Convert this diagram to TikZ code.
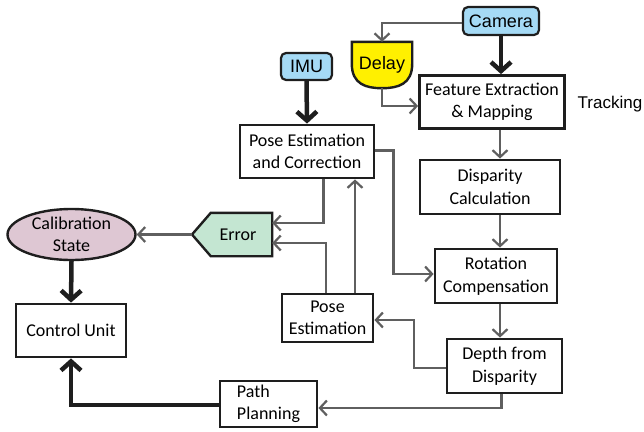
\documentclass[tikz,border=0pt]{standalone}
\usepackage{fontspec}
\setmainfont{Carlito}
\newfontfamily\arialf{Liberation Sans}
\usetikzlibrary{arrows.meta,shapes.geometric,backgrounds}
\definecolor{camblue}{RGB}{165,218,245}
\definecolor{delayyel}{RGB}{255,240,0}
\definecolor{errgreen}{RGB}{196,230,210}
\definecolor{calpink}{RGB}{222,199,211}
\definecolor{linegray}{RGB}{95,95,95}
\definecolor{boxblack}{RGB}{30,30,30}
\tikzset{
  txt/.style={font=\fontsize{18}{22.5}\selectfont, align=center, inner sep=0pt},
  box/.style={txt, draw=boxblack, line width=2.8pt, fill=white},
  rbox/.style={draw=boxblack, line width=2.2pt, fill=camblue, rounded corners=5pt,
     font=\arialf\fontsize{18}{22}\selectfont, inner sep=0pt},
  garr/.style={draw=linegray, line width=2.2pt, -{Straight Barb[length=7pt,width=15pt]}},
  karr/.style={draw=boxblack, line width=4.5pt, -{Straight Barb[length=9pt,width=20pt]}},
}
\begin{document}
\begin{tikzpicture}[x=1pt,y=-1pt]
\useasboundingbox (0,0) rectangle (644,431);
% nodes
\node[rbox, minimum width=76pt, minimum height=28pt] (camera) at (501,21) {Camera};
\node[txt, font=\arialf\fontsize{18}{22}\selectfont, minimum width=60pt, minimum height=46pt] (delay) at (382,65) {Delay};
\node[box, minimum width=145pt, minimum height=53pt] (feat) at (492,102) {Feature Extraction\\\& Mapping};
\node[txt, font=\arialf\fontsize{17}{20}\selectfont] (track) at (610,104) {Tracking};
\node[rbox, minimum width=51pt, minimum height=27pt] (imu) at (306.5,66.5) {IMU};
\node[box, minimum width=134pt, minimum height=53pt] (pec) at (307,151.5) {Pose Estimation\\and Correction};
\node[box, minimum width=140pt, minimum height=54pt] (disp) at (490,187) {Disparity\\Calculation};
\node[txt, draw=boxblack, line width=2.4pt, fill=calpink, ellipse, minimum width=128pt, minimum height=51pt] (calib) at (71.5,234.5) {Calibration\\State};
\node[txt, minimum width=61pt, minimum height=43pt] (error) at (241.5,234.5) {\hspace*{-7pt}Error};
\coordinate (errtip) at (192,234.5);
\begin{scope}[on background layer]
\draw[boxblack, line width=2.4pt, fill=delayyel]
  (delay.north west) -- (delay.north east) -- ([yshift=-22pt]delay.north east)
  .. controls ([yshift=4pt]delay.south east) and ([xshift=16pt]delay.south) .. (delay.south)
  .. controls ([xshift=-16pt]delay.south) and ([yshift=4pt]delay.south west) .. ([yshift=-22pt]delay.north west) -- cycle;
\draw[boxblack, line width=2.4pt, fill=errgreen, line join=miter]
  (error.north west) -- (error.north east) -- (error.south east) -- (error.south west) -- (errtip) -- cycle;
\end{scope}
\node[box, minimum width=122pt, minimum height=54pt] (rot) at (496,276) {Rotation\\Compensation};
\node[box, minimum width=110pt, minimum height=53pt] (ctrl) at (71,330.5) {Control Unit};
\node[box, minimum width=91pt, minimum height=48pt] (poseb) at (327.5,318) {Pose\\Estimation};
\node[box, minimum width=115pt, minimum height=54pt] (depth) at (504.5,366) {Depth from\\Disparity};
\node[box, align=left, minimum width=97pt, minimum height=46pt] (path) at (268.5,404) {Path\\Planning};
\coordinate (cx) at (500,0);
% connectors
\draw[garr] (camera.west |- 0,23) -| (delay.north);
\draw[karr] (camera.south) -- (camera.south |- feat.north);
\draw[garr] (delay.south) |- ([yshift=-4pt]feat.west);
\draw[karr] (imu.south) -- (pec.north);
\draw[garr] (feat.south -| cx) -- (disp.north -| cx);
\draw[garr] (disp.south -| cx) -- (rot.north -| cx);
\draw[garr] (rot.south -| cx) -- (depth.north -| cx);
\draw[garr] ([xshift=-3pt]depth.south) |- ([yshift=-4pt]path.east);
\draw[garr] ([yshift=-2pt]depth.west) -- ++(-32pt,0) |- ([yshift=-2pt]poseb.east);
\draw[garr] ([xshift=27.5pt]poseb.north) -- ([xshift=27.5pt]poseb.north |- pec.south);
\draw[garr] ([xshift=16.5pt]pec.south) |- ([yshift=11.5pt]error.east);
\draw[garr] ([xshift=-1.5pt]poseb.north) |- ([yshift=-8.5pt]error.east);
\draw[garr] ([yshift=1pt]pec.east) -- ++(18pt,0) |- ([yshift=2pt]rot.west);
\draw[garr] (errtip) -- (calib.east);
\draw[karr] (calib.south) -- (ctrl.north);
\draw[karr] ([yshift=-1pt]path.west) -| (ctrl.south);
\end{tikzpicture}
\end{document}
